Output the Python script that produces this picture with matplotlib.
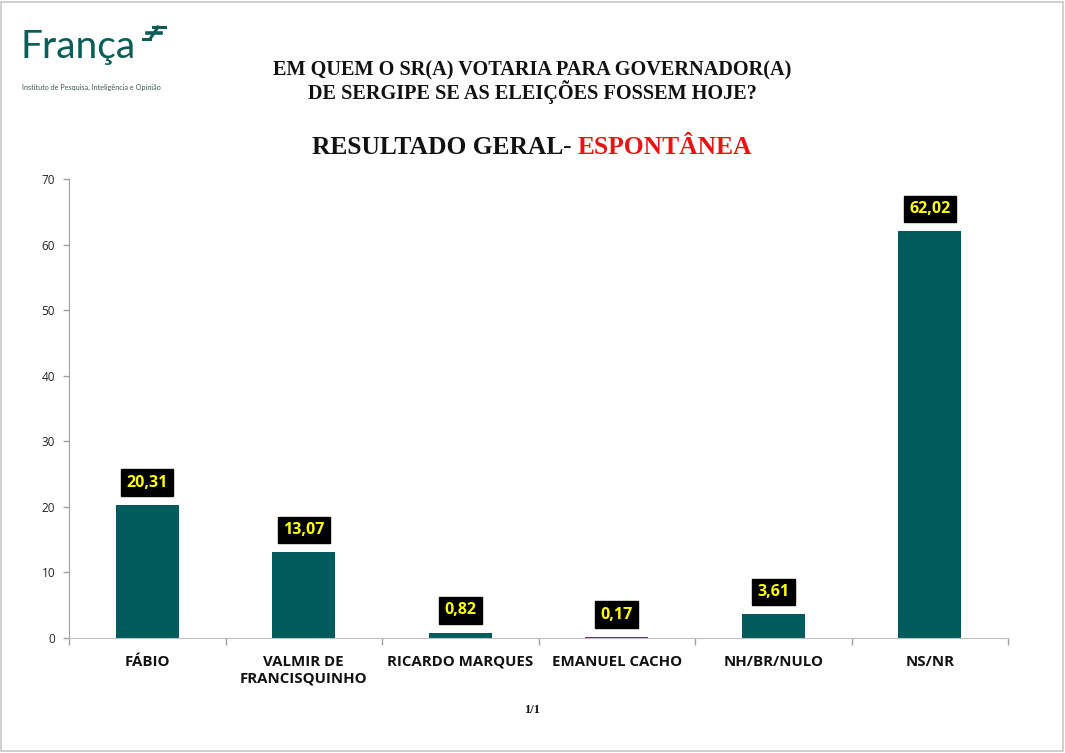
import matplotlib
matplotlib.use("Agg")
import matplotlib.pyplot as plt
from matplotlib.patches import Rectangle
from matplotlib.lines import Line2D

categories = ["FÁBIO", "VALMIR DE\nFRANCISQUINHO", "RICARDO MARQUES", "EMANUEL CACHO", "NH/BR/NULO", "NS/NR"]
values = [20.31, 13.07, 0.82, 0.17, 3.61, 62.02]
value_labels = ["20,31", "13,07", "0,82", "0,17", "3,61", "62,02"]
yticks = [0, 10, 20, 30, 40, 50, 60, 70]

W, H = 1065, 753
fig = plt.figure(figsize=(W / 100, H / 100), dpi=100)
fig.patch.set_facecolor("white")

# border frame
fig.add_artist(Rectangle((1 / W, 2 / H), (W - 3) / W, (H - 4) / H, transform=fig.transFigure,
                         fill=False, edgecolor="#c8c8c8", linewidth=1.2))

ax = fig.add_axes([69 / W, 1 - 638 / H, (1008 - 69) / W, (638 - 179) / H])
teal = "#005c5c"
x = list(range(len(categories)))
ax.bar(x, values, width=0.4, color=teal, zorder=2)
ax.set_xlim(-0.5, len(categories) - 0.5)
ax.set_ylim(0, 70)
ax.set_yticks(yticks)
ax.set_yticklabels([str(t) for t in yticks], fontsize=8.5, family="Open Sans", color="#222222")
ax.set_xticks(x)
ax.set_xticklabels(categories, fontsize=10.8, fontweight="bold", family="Open Sans", color="#111111",
                   linespacing=1.3, va="top")
ax.tick_params(axis="x", length=0, pad=12)
ax.set_xticks([i - 0.5 for i in range(len(categories) + 1)], minor=True)
ax.tick_params(axis="x", which="minor", length=5, color="#a0a0a0", width=1)
ax.tick_params(axis="y", length=4, color="#a0a0a0", width=1, pad=6)
for s in ["top", "right"]:
    ax.spines[s].set_visible(False)
ax.spines["left"].set_color("#a0a0a0")
ax.spines["bottom"].set_color("#c0c0c0")

for xi, v, lab in zip(x, values, value_labels):
    ax.annotate(lab, (xi, v), xytext=(0, 16), textcoords="offset points", ha="center", va="center",
                fontsize=11.5, fontweight="bold", family="Open Sans", color="#ffff00",
                bbox=dict(boxstyle="square,pad=0.33", facecolor="black", edgecolor="black"))

# titles
fig.text(532 / W, 1 - 70 / H, "EM QUEM O SR(A) VOTARIA PARA GOVERNADOR(A)", ha="center", va="center",
         fontsize=14.6, fontweight="bold", family="Liberation Serif", color="#111111")
fig.text(532 / W, 1 - 92 / H, "DE SERGIPE SE AS ELEIÇÕES FOSSEM HOJE?", ha="center", va="center",
         fontsize=14.6, fontweight="bold", family="Liberation Serif", color="#111111")

fs2 = 18.4
parts = [("RESULTADO GERAL", "bold", "#111111"), ("- ", "normal", "#111111"), ("ESPONTÂNEA", "bold", "#ee1111")]
texts = []
xpos = 0
for s, wgt, col in parts:
    t = fig.text(xpos, 1 - 147 / H, s, ha="left", va="center", fontsize=fs2, fontweight=wgt,
                 family="Liberation Serif", color=col)
    fig.canvas.draw()
    bb = t.get_window_extent()
    texts.append(t)
    xpos = bb.x1 / W
total = xpos
start = 532 / W - total / 2
fig.canvas.draw()
xpos = start
for t in texts:
    t.set_x(xpos)
    fig.canvas.draw()
    xpos = t.get_window_extent().x1 / W

fig.text(532 / W, 1 - 710 / H, "1/1", ha="center", va="center",
         fontsize=9, fontweight="bold", family="Liberation Serif", color="#111111")

# logo
fig.text(20 / W, 1 - 47 / H, "França", ha="left", va="center", fontsize=28, family="Lato",
         fontweight="normal", color="#0b5d58")
fig.text(22 / W, 1 - 87 / H, "Instituto de Pesquisa, Inteligência e Opinião", ha="left", va="center",
         fontsize=5.2, family="Lato", color="#3c5a58")
for (x0, y0, x1, y1, lw) in [(153, 27, 165, 27, 2.2), (147, 33, 161, 33, 2.6), (143, 39, 150, 39, 2.2),
                             (158, 27, 150, 39, 2.2)]:
    fig.add_artist(Line2D([x0 / W, x1 / W], [1 - y0 / H, 1 - y1 / H], transform=fig.transFigure,
                          color="#0b5d58", linewidth=lw))

fig.savefig("out.png", dpi=100, facecolor="white")
